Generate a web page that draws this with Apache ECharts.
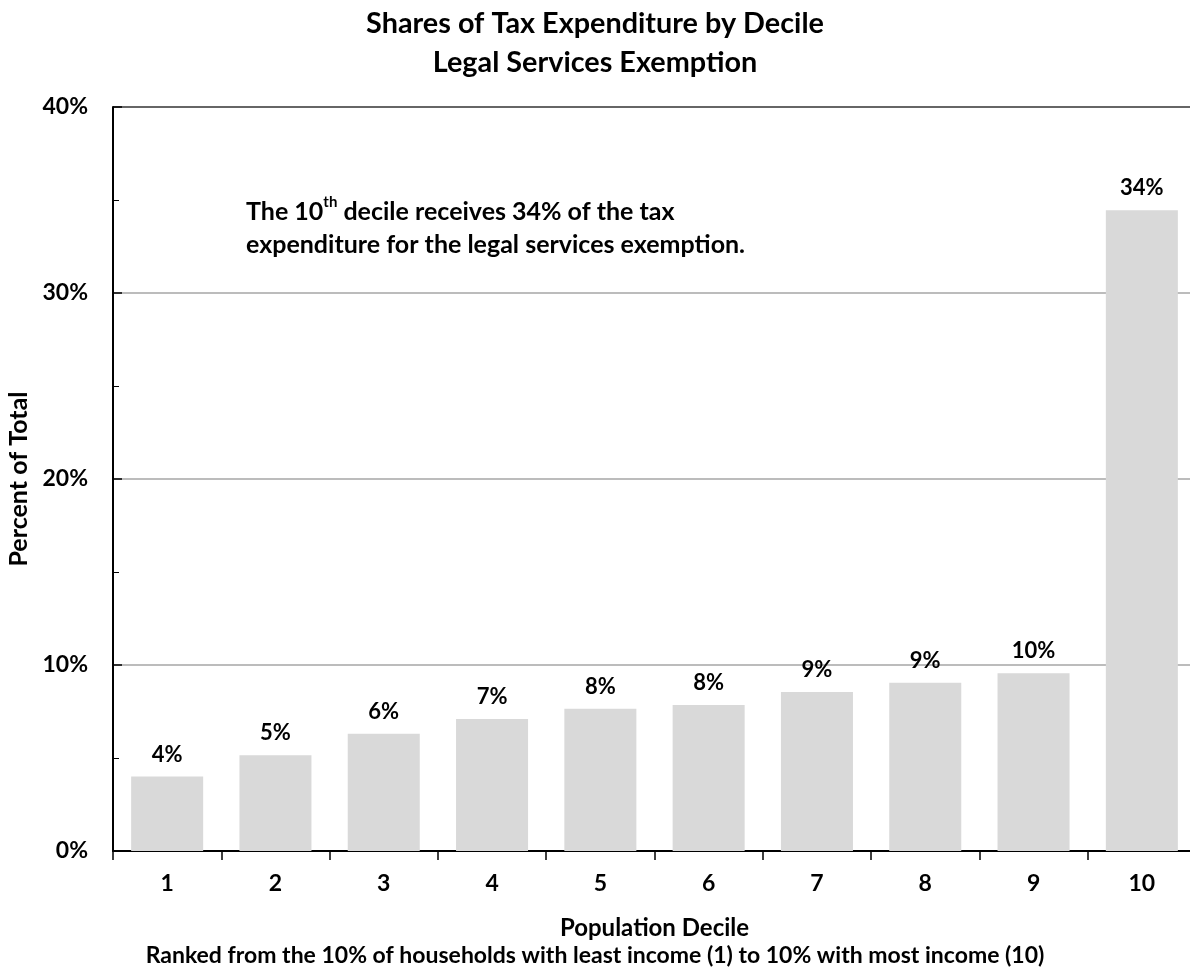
<!DOCTYPE html>
<html>
<head>
<meta charset="utf-8">
<script src="https://cdn.jsdelivr.net/npm/echarts@6/dist/echarts.min.js"></script>
<style>
html,body{margin:0;padding:0;background:#fff;}
#chart{width:1190px;height:973px;}
</style>
</head>
<body>
<div id="chart"></div>
<script>
const categories = ['1','2','3','4','5','6','7','8','9','10'];
const shares = [4.0, 5.15, 6.3, 7.1, 7.65, 7.85, 8.55, 9.05, 9.55, 34.45];
const yTicks = [0, 10, 20, 30, 40];

const FONT = 'Lato, "Open Sans", sans-serif';
const chart = echarts.init(document.getElementById('chart'));
chart.setOption({
  animation: false,
  backgroundColor: '#ffffff',
  title: [{
    text: 'Shares of Tax Expenditure by Decile\nLegal Services Exemption',
    left: 'center', top: -1,
    textStyle: {fontFamily: FONT, fontWeight: 'bold', fontSize: 28.8, color: '#000', lineHeight: 39}
  }],
  grid: {left: 113, width: 1083, top: 107, bottom: 122, containLabel: false, outerBoundsMode: 'none'},
  xAxis: {
    type: 'category',
    data: categories,
    axisLine: {lineStyle: {color: '#000', width: 2}},
    axisTick: {show: true, alignWithLabel: false, length: 9, lineStyle: {color: '#000', width: 1.5}},
    axisLabel: {fontFamily: FONT, fontWeight: 'bold', fontSize: 23, color: '#000', margin: 21},
    name: 'Population Decile',
    nameLocation: 'middle',
    nameGap: 65,
    nameTextStyle: {fontFamily: FONT, fontWeight: 'bold', fontSize: 24, color: '#000'}
  },
  yAxis: {
    type: 'value',
    min: yTicks[0], max: yTicks[yTicks.length - 1], interval: 10,
    axisLine: {show: true, lineStyle: {color: '#000', width: 2}},
    axisTick: {show: true, inside: true, length: 9, lineStyle: {color: '#000', width: 1.5}},
    minorTick: {show: true, splitNumber: 2, length: 6, lineStyle: {color: '#000', width: 1}},
    axisLabel: {fontFamily: FONT, fontWeight: 'bold', fontSize: 23, color: '#000', margin: 25, formatter: v => v + '%'},
    splitLine: {show: true, lineStyle: {color: ['#a6a6a6', '#a6a6a6', '#a6a6a6', '#a6a6a6', '#333'], width: 1.5}},
    name: 'Percent of Total',
    nameLocation: 'middle',
    nameGap: 82,
    nameTextStyle: {fontFamily: FONT, fontWeight: 'bold', fontSize: 25, color: '#000'}
  },
  series: [{
    type: 'bar',
    data: shares,
    barCategoryGap: '33.5%',
    itemStyle: {color: '#d9d9d9'},
    label: {
      show: true, position: 'top', distance: 11,
      fontFamily: FONT, fontWeight: 'bold', fontSize: 22, color: '#000',
      formatter: p => Math.round(p.value) + '%'
    }
  }],
  graphic: [
    {
      type: 'text', left: 246, top: 195,
      style: {
        rich: {
          a: {fontFamily: FONT, fontWeight: 'bold', fontSize: 25, fill: '#000', lineHeight: 33},
          sup: {fontFamily: FONT, fontWeight: 'bold', fontSize: 15, fill: '#000', lineHeight: 33, verticalAlign: 'top', padding: [0,0,10,0]}
        },
        text: '{a|The 10}{sup|th}{a| decile receives 34% of the tax}\n{a|expenditure for the legal services exemption.}'
      }
    },
    {
      type: 'text', left: 'center', top: 944,
      style: {
        text: 'Ranked from the 10% of households with least income (1) to 10% with most income (10)',
        fontFamily: FONT, fontWeight: 'bold', fontSize: 23, fill: '#000'
      }
    }
  ]
});
</script>
</body>
</html>
